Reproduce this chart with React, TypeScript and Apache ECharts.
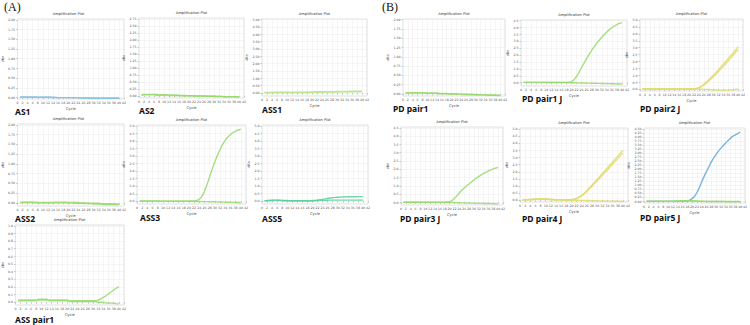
import React, { useEffect, useRef } from "react";
import * as echarts from "echarts";

// Cycle numbers shared by every amplification run
const CYCLES = [1, 2, 3, 4, 5, 6, 7, 8, 9, 10, 11, 12, 13, 14, 15, 16, 17, 18, 19, 20, 21, 22, 23, 24, 25, 26, 27, 28, 29, 30, 31, 32, 33, 34, 35, 36, 37, 38, 39, 40];

// y tick label sets
const TICKS_2_00 = [0, 0.25, 0.5, 0.75, 1, 1.25, 1.5, 1.75, 2];
const TICKS_2_75 = [0, 0.25, 0.5, 0.75, 1, 1.25, 1.5, 1.75, 2, 2.25, 2.5, 2.75];
const TICKS_5_0 = [0, 0.5, 1, 1.5, 2, 2.5, 3, 3.5, 4, 4.5, 5];
const TICKS_1_0 = [0, 0.1, 0.2, 0.3, 0.4, 0.5, 0.6, 0.7, 0.8, 0.9, 1];
const TICKS_4_5 = [0, 0.5, 1, 1.5, 2, 2.5, 3, 3.5, 4, 4.5];
const TICKS_4_50Q = [0, 0.25, 0.5, 0.75, 1, 1.25, 1.5, 1.75, 2, 2.25, 2.5, 2.75, 3, 3.25, 3.5, 3.75, 4, 4.25, 4.5];

// dRn per cycle
const AS1_W1 = [0.02, 0.02, 0.02, 0.02, 0.02, 0.02, 0.02, 0.01, 0.01, 0.01, 0.01, 0.01, 0.01, 0.01, 0.01, 0.0, 0.0, 0.0, 0.0, 0.0, 0.0, 0.0, 0.0, 0.0, -0.01, -0.01, -0.01, -0.01, -0.01, -0.02, -0.02, -0.02, -0.02, -0.02, -0.02, -0.02, -0.02, -0.02, -0.02, -0.02];
const AS1_W2 = [0.01, 0.01, 0.01, 0.01, 0.01, 0.01, 0.01, 0.01, 0.01, 0.01, 0.01, 0.01, 0.01, 0.0, 0.0, 0.0, 0.0, 0.0, 0.0, 0.0, 0.0, 0.0, 0.0, 0.0, 0.0, 0.0, -0.01, -0.01, -0.01, -0.01, -0.01, -0.01, -0.01, -0.01, -0.01, -0.01, -0.01, -0.01, -0.01, -0.01];

const AS2_W1 = [0.04, 0.05, 0.05, 0.05, 0.05, 0.05, 0.05, 0.04, 0.04, 0.04, 0.03, 0.03, 0.03, 0.02, 0.02, 0.02, 0.01, 0.01, 0.01, 0.0, 0.0, 0.0, -0.01, -0.01, -0.01, -0.01, -0.02, -0.02, -0.02, -0.02, -0.03, -0.03, -0.03, -0.03, -0.04, -0.04, -0.04, -0.04, -0.05, -0.05];
const AS2_W2 = [0.02, 0.03, 0.03, 0.03, 0.03, 0.03, 0.02, 0.02, 0.02, 0.02, 0.02, 0.01, 0.01, 0.01, 0.01, 0.01, 0.0, 0.0, 0.0, 0.0, 0.0, -0.01, -0.01, -0.01, -0.01, -0.01, -0.01, -0.02, -0.02, -0.02, -0.02, -0.02, -0.02, -0.03, -0.03, -0.03, -0.03, -0.03, -0.03, -0.04];

const ASS1_W1 = [0.05, 0.05, 0.05, 0.05, 0.06, 0.06, 0.06, 0.06, 0.06, 0.06, 0.06, 0.06, 0.06, 0.06, 0.06, 0.06, 0.06, 0.06, 0.07, 0.08, 0.09, 0.09, 0.1, 0.1, 0.1, 0.1, 0.1, 0.1, 0.1, 0.11, 0.11, 0.11, 0.11, 0.11, 0.12, 0.12, 0.12, 0.12, 0.12, 0.12];
const ASS1_W2 = [0.02, 0.02, 0.02, 0.02, 0.03, 0.03, 0.03, 0.03, 0.03, 0.03, 0.03, 0.03, 0.03, 0.03, 0.03, 0.03, 0.03, 0.04, 0.04, 0.05, 0.05, 0.06, 0.06, 0.06, 0.06, 0.07, 0.07, 0.07, 0.07, 0.07, 0.08, 0.08, 0.08, 0.08, 0.08, 0.09, 0.09, 0.09, 0.09, 0.09];

const ASS2_W1 = [0.01, 0.02, 0.02, 0.02, 0.02, 0.02, 0.02, 0.01, 0.01, 0.01, 0.01, 0.01, 0.01, 0.01, 0.02, 0.02, 0.02, 0.02, 0.02, 0.01, 0.01, 0.01, 0.01, 0.01, 0.0, 0.0, 0.0, 0.0, -0.01, -0.01, -0.01, -0.01, -0.02, -0.02, -0.02, -0.02, -0.02, -0.03, -0.03, -0.03];
const ASS2_W2 = [0.0, 0.01, 0.01, 0.01, 0.01, 0.01, 0.0, 0.0, 0.0, 0.0, 0.0, 0.0, 0.0, 0.0, 0.0, 0.0, 0.0, 0.0, 0.0, 0.0, 0.0, 0.0, -0.01, -0.01, -0.01, -0.01, -0.02, -0.02, -0.02, -0.03, -0.03, -0.03, -0.03, -0.04, -0.04, -0.04, -0.04, -0.04, -0.05, -0.05];

const ASS3_W1 = [0.0, 0.01, 0.01, 0.01, 0.01, 0.01, 0.01, 0.01, 0.01, 0.01, 0.01, 0.01, 0.01, 0.01, 0.01, 0.01, 0.01, 0.01, 0.01, 0.01, 0.02, 0.03, 0.06, 0.14, 0.32, 0.66, 1.12, 1.64, 2.15, 2.62, 3.05, 3.44, 3.78, 4.05, 4.27, 4.44, 4.57, 4.67, 4.74, 4.79];
const ASS3_W2 = [0.02, 0.02, 0.02, 0.02, 0.02, 0.02, 0.02, 0.02, 0.01, 0.01, 0.01, 0.01, 0.01, 0.01, 0.01, 0.0, 0.0, 0.0, 0.0, 0.0, 0.0, -0.01, -0.01, -0.01, -0.02, -0.02, -0.02, -0.03, -0.03, -0.04, -0.04, -0.05, -0.05, -0.06, -0.06, -0.07, -0.07, -0.08, -0.08, -0.09];

const ASS5_W1 = [0.02, 0.03, 0.04, 0.05, 0.06, 0.06, 0.05, 0.04, 0.03, 0.03, 0.02, 0.02, 0.02, 0.02, 0.02, 0.02, 0.02, 0.02, 0.02, 0.03, 0.04, 0.06, 0.08, 0.11, 0.14, 0.17, 0.2, 0.22, 0.24, 0.25, 0.26, 0.27, 0.27, 0.28, 0.28, 0.28, 0.28, 0.29, 0.29, 0.29];
const ASS5_W2 = [0.01, 0.02, 0.03, 0.03, 0.04, 0.04, 0.04, 0.03, 0.02, 0.02, 0.02, 0.01, 0.01, 0.01, 0.01, 0.01, 0.01, 0.01, 0.01, 0.02, 0.02, 0.03, 0.04, 0.04, 0.05, 0.05, 0.06, 0.06, 0.06, 0.06, 0.06, 0.06, 0.06, 0.06, 0.06, 0.06, 0.06, 0.06, 0.06, 0.06];

const ASSP1_W1 = [0.03, 0.03, 0.03, 0.03, 0.03, 0.03, 0.03, 0.03, 0.04, 0.04, 0.04, 0.04, 0.03, 0.03, 0.03, 0.03, 0.03, 0.03, 0.03, 0.03, 0.02, 0.02, 0.02, 0.02, 0.02, 0.02, 0.02, 0.02, 0.02, 0.02, 0.02, 0.03, 0.045, 0.065, 0.085, 0.11, 0.135, 0.16, 0.185, 0.205];
const ASSP1_W2 = [0.02, 0.02, 0.02, 0.02, 0.02, 0.02, 0.02, 0.02, 0.03, 0.03, 0.03, 0.03, 0.02, 0.02, 0.02, 0.02, 0.02, 0.02, 0.02, 0.02, 0.01, 0.01, 0.01, 0.01, 0.01, 0.01, 0.01, 0.01, 0.01, 0.01, 0.01, 0.0, 0.0, 0.0, -0.01, -0.01, -0.01, -0.01, -0.02, -0.02];

const PDP1_W1 = [0.02, 0.03, 0.03, 0.03, 0.03, 0.03, 0.03, 0.03, 0.03, 0.02, 0.02, 0.02, 0.02, 0.02, 0.01, 0.01, 0.01, 0.01, 0.0, 0.0, 0.0, 0.0, -0.01, -0.01, -0.01, -0.01, -0.02, -0.02, -0.02, -0.02, -0.02, -0.03, -0.03, -0.03, -0.03, -0.03, -0.04, -0.04, -0.04, -0.04];
const PDP1_W2 = [0.01, 0.02, 0.02, 0.02, 0.02, 0.02, 0.02, 0.02, 0.02, 0.01, 0.01, 0.01, 0.01, 0.01, 0.0, 0.0, 0.0, 0.0, 0.0, -0.01, -0.01, -0.01, -0.01, -0.01, -0.02, -0.02, -0.02, -0.02, -0.02, -0.03, -0.03, -0.03, -0.03, -0.03, -0.04, -0.04, -0.04, -0.04, -0.05, -0.05];

const PDP1J_W1 = [0.02, 0.02, 0.02, 0.02, 0.02, 0.02, 0.02, 0.02, 0.02, 0.02, 0.02, 0.02, 0.02, 0.02, 0.02, 0.02, 0.02, 0.03, 0.04, 0.08, 0.22, 0.45, 0.75, 1.1, 1.42, 1.75, 2.05, 2.35, 2.6, 2.85, 3.08, 3.3, 3.5, 3.68, 3.85, 4.0, 4.12, 4.22, 4.3, 4.36];
const PDP1J_W2 = [0.02, 0.02, 0.02, 0.02, 0.02, 0.02, 0.02, 0.02, 0.02, 0.02, 0.01, 0.01, 0.01, 0.01, 0.01, 0.01, 0.01, 0.0, 0.0, 0.0, 0.0, -0.01, -0.01, -0.02, -0.02, -0.03, -0.03, -0.04, -0.04, -0.05, -0.05, -0.06, -0.06, -0.07, -0.07, -0.08, -0.08, -0.09, -0.09, -0.1];

const PDP2J_W1 = [0.02, 0.02, 0.02, 0.02, 0.02, 0.02, 0.02, 0.02, 0.02, 0.02, 0.02, 0.02, 0.02, 0.02, 0.02, 0.02, 0.02, 0.02, 0.02, 0.02, 0.02, 0.03, 0.06, 0.12, 0.22, 0.36, 0.52, 0.68, 0.85, 1.03, 1.22, 1.42, 1.62, 1.82, 2.02, 2.22, 2.43, 2.64, 2.86, 3.08];
const PDP2J_W2 = [0.02, 0.02, 0.02, 0.02, 0.02, 0.02, 0.02, 0.02, 0.02, 0.02, 0.02, 0.02, 0.02, 0.02, 0.02, 0.02, 0.02, 0.02, 0.02, 0.02, 0.02, 0.03, 0.05, 0.1, 0.19, 0.31, 0.45, 0.6, 0.76, 0.93, 1.1, 1.28, 1.47, 1.66, 1.85, 2.05, 2.25, 2.46, 2.67, 2.88];
const PDP2J_W3 = [0.02, 0.02, 0.02, 0.02, 0.02, 0.02, 0.02, 0.02, 0.02, 0.02, 0.02, 0.02, 0.02, 0.02, 0.02, 0.02, 0.02, 0.02, 0.02, 0.02, 0.02, 0.02, 0.02, 0.01, 0.01, 0.0, 0.0, -0.01, -0.02, -0.03, -0.04, -0.05, -0.06, -0.06, -0.06, -0.05, -0.04, -0.02, 0.0, 0.02];

const PDP3J_W1 = [0.02, 0.02, 0.02, 0.02, 0.02, 0.02, 0.02, 0.02, 0.02, 0.02, 0.02, 0.02, 0.02, 0.02, 0.02, 0.02, 0.02, 0.02, 0.03, 0.05, 0.12, 0.25, 0.4, 0.57, 0.72, 0.87, 1.0, 1.12, 1.24, 1.35, 1.46, 1.56, 1.66, 1.75, 1.83, 1.9, 1.97, 2.03, 2.08, 2.12];
const PDP3J_W2 = [0.02, 0.02, 0.02, 0.02, 0.02, 0.02, 0.02, 0.02, 0.02, 0.02, 0.02, 0.01, 0.01, 0.01, 0.01, 0.01, 0.01, 0.01, 0.0, 0.0, 0.0, 0.0, -0.01, -0.01, -0.02, -0.02, -0.03, -0.03, -0.04, -0.04, -0.05, -0.05, -0.05, -0.06, -0.06, -0.06, -0.07, -0.07, -0.08, -0.08];

const PDP4J_W1 = [0.03, 0.04, 0.05, 0.06, 0.07, 0.08, 0.09, 0.1, 0.1, 0.09, 0.08, 0.07, 0.06, 0.05, 0.05, 0.04, 0.04, 0.04, 0.04, 0.05, 0.08, 0.14, 0.23, 0.35, 0.5, 0.68, 0.87, 1.07, 1.27, 1.47, 1.67, 1.87, 2.07, 2.27, 2.47, 2.68, 2.89, 3.1, 3.3, 3.5];
const PDP4J_W2 = [0.02, 0.03, 0.04, 0.05, 0.06, 0.07, 0.08, 0.09, 0.09, 0.08, 0.07, 0.06, 0.05, 0.04, 0.04, 0.03, 0.03, 0.03, 0.03, 0.04, 0.07, 0.12, 0.2, 0.31, 0.45, 0.62, 0.8, 0.99, 1.18, 1.37, 1.56, 1.75, 1.94, 2.13, 2.33, 2.53, 2.73, 2.93, 3.12, 3.32];
const PDP4J_W3 = [0.02, 0.03, 0.04, 0.05, 0.06, 0.07, 0.08, 0.08, 0.08, 0.07, 0.06, 0.05, 0.04, 0.04, 0.03, 0.03, 0.02, 0.02, 0.01, 0.01, 0.0, 0.0, 0.0, -0.01, -0.01, -0.02, -0.02, -0.03, -0.03, -0.04, -0.04, -0.05, -0.05, -0.06, -0.06, -0.06, -0.07, -0.07, -0.08, -0.08];

const PDP5J_B1 = [0.0, 0.0, 0.0, 0.0, 0.0, 0.0, 0.0, 0.0, 0.0, 0.0, 0.0, 0.0, 0.0, 0.0, 0.0, 0.0, 0.01, 0.03, 0.08, 0.17, 0.3, 0.55, 0.85, 1.2, 1.55, 1.85, 2.15, 2.45, 2.7, 2.92, 3.12, 3.3, 3.47, 3.62, 3.78, 3.92, 4.05, 4.12, 4.2, 4.3];
const PDP5J_G1 = [0.01, 0.01, 0.01, 0.01, 0.01, 0.01, 0.01, 0.01, 0.01, 0.01, 0.01, 0.01, 0.02, 0.03, 0.04, 0.05, 0.05, 0.05, 0.05, 0.04, 0.03, 0.02, 0.01, 0.01, 0.0, 0.0, 0.0, 0.0, 0.0, 0.0, 0.0, 0.0, 0.0, 0.0, 0.0, 0.0, 0.0, 0.0, 0.0, 0.0];
const PDP5J_G2 = [0.0, 0.0, 0.0, 0.0, 0.0, 0.0, 0.0, 0.0, 0.0, 0.0, 0.0, 0.0, 0.01, 0.01, 0.02, 0.02, 0.02, 0.02, 0.02, 0.02, 0.01, 0.01, 0.0, 0.0, 0.0, 0.0, -0.01, -0.01, -0.01, -0.01, -0.01, -0.01, -0.01, -0.02, -0.02, -0.02, -0.02, -0.02, -0.02, -0.02];

const GREEN = "#97d96b";
const YELLOW = "#e2da68";
const BLUE = "#62a8d8";
const TEAL = "#58cf9c";
const SKY = "#86c1e4";

type Panel = {
  label: string;
  ticks: number[];
  decimals: number;
  lines: [number[], string][];
};

const PANELS: Panel[] = [
  { label: "AS1", ticks: TICKS_2_00, decimals: 2, lines: [[AS1_W1, SKY], [AS1_W2, SKY]] },
  { label: "AS2", ticks: TICKS_2_75, decimals: 2, lines: [[AS2_W1, GREEN], [AS2_W2, GREEN]] },
  { label: "ASS1", ticks: TICKS_5_0, decimals: 2, lines: [[ASS1_W1, "#b9e48c"], [ASS1_W2, "#b9e48c"]] },
  { label: "ASS2", ticks: TICKS_2_00, decimals: 2, lines: [[ASS2_W1, GREEN], [ASS2_W2, GREEN]] },
  { label: "ASS3", ticks: TICKS_5_0, decimals: 1, lines: [[ASS3_W1, GREEN], [ASS3_W2, GREEN]] },
  { label: "ASS5", ticks: TICKS_5_0, decimals: 1, lines: [[ASS5_W1, TEAL], [ASS5_W2, TEAL]] },
  { label: "ASS pair1", ticks: TICKS_1_0, decimals: 1, lines: [[ASSP1_W1, GREEN], [ASSP1_W2, GREEN]] },
  { label: "PD pair1", ticks: TICKS_2_00, decimals: 2, lines: [[PDP1_W1, GREEN], [PDP1_W2, GREEN]] },
  { label: "PD pair1 J", ticks: TICKS_4_5, decimals: 1, lines: [[PDP1J_W1, GREEN], [PDP1J_W2, GREEN]] },
  { label: "PD pair2 J", ticks: TICKS_5_0, decimals: 1, lines: [[PDP2J_W1, YELLOW], [PDP2J_W2, YELLOW], [PDP2J_W3, YELLOW]] },
  { label: "PD pair3 J", ticks: TICKS_4_5, decimals: 1, lines: [[PDP3J_W1, GREEN], [PDP3J_W2, GREEN]] },
  { label: "PD pair4 J", ticks: TICKS_5_0, decimals: 1, lines: [[PDP4J_W1, YELLOW], [PDP4J_W2, YELLOW], [PDP4J_W3, YELLOW]] },
  { label: "PD pair5 J", ticks: TICKS_4_50Q, decimals: 2, lines: [[PDP5J_B1, BLUE], [PDP5J_G1, GREEN], [PDP5J_G2, GREEN]] },
];

// plot boxes (px) and the value range shown on each y axis
const LAYOUT = [
  { left: 13, top: 19, width: 111, height: 80, yMin: -0.035, yMax: 2.02, lx: 15, ly: 111 },
  { left: 139, top: 18, width: 105, height: 80, yMin: -0.08, yMax: 2.78, lx: 139, ly: 110 },
  { left: 262, top: 19, width: 105, height: 77, yMin: -0.2, yMax: 5.05, lx: 262, ly: 109 },
  { left: 13, top: 124, width: 111, height: 82, yMin: -0.08, yMax: 2.02, lx: 15, ly: 218 },
  { left: 137, top: 125, width: 109, height: 79, yMin: -0.18, yMax: 5.07, lx: 140, ly: 217 },
  { left: 262, top: 125, width: 106, height: 79, yMin: -0.2, yMax: 5.07, lx: 262, ly: 218 },
  { left: 15, top: 225, width: 109, height: 80, yMin: -0.035, yMax: 1.01, lx: 15, ly: 319 },
  { left: 403, top: 19, width: 102, height: 77, yMin: -0.06, yMax: 2.02, lx: 393, ly: 108 },
  { left: 521, top: 20, width: 106, height: 66, yMin: -0.24, yMax: 4.55, lx: 522, ly: 98 },
  { left: 640, top: 19, width: 103, height: 72, yMin: -0.12, yMax: 5.07, lx: 640, ly: 108 },
  { left: 401, top: 127, width: 102, height: 78, yMin: -0.15, yMax: 4.55, lx: 400, ly: 218 },
  { left: 520, top: 128, width: 108, height: 74, yMin: -0.12, yMax: 5.07, lx: 522, ly: 218 },
  { left: 644, top: 128, width: 101, height: 75, yMin: -0.1, yMax: 4.55, lx: 640, ly: 217 },
];

const TICK_FONT = 3.2;

function buildOption() {
  const grid = LAYOUT.map((g) => ({
    left: g.left,
    top: g.top,
    width: g.width,
    height: g.height,
    show: true,
    backgroundColor: "#ffffff",
    borderColor: "#cdcdcd",
    borderWidth: 0.6,
  }));

  const xAxis = LAYOUT.map((_, i) => ({
    gridIndex: i,
    type: "value",
    min: 0,
    max: 42,
    interval: 2,
    name: "Cycle",
    nameLocation: "middle",
    nameGap: 7.5,
    nameTextStyle: { fontSize: 3.6, color: "#444", fontFamily: "DejaVu Sans" },
    axisLine: { show: false },
    axisTick: { show: true, length: 1.5, lineStyle: { color: "#999", width: 0.5 } },
    axisLabel: { fontSize: TICK_FONT, color: "#555", margin: 2.2, fontFamily: "DejaVu Sans" },
    splitLine: { show: true, lineStyle: { color: "#ebebeb", width: 0.5 } },
  }));

  const yAxis = LAYOUT.map((g, i) => {
    const p = PANELS[i];
    return {
      gridIndex: i,
      type: "value",
      min: g.yMin,
      max: g.yMax,
      name: "dRn",
      nameLocation: "middle",
      nameRotate: 90,
      nameGap: 9,
      nameTextStyle: { fontSize: 3.4, color: "#444", fontFamily: "DejaVu Sans" },
      axisLine: { show: false },
      axisTick: { show: true, length: 1.5, customValues: p.ticks, lineStyle: { color: "#999", width: 0.5 } },
      axisLabel: {
        fontSize: TICK_FONT,
        color: "#555",
        margin: 2.5,
        fontFamily: "DejaVu Sans",
        customValues: p.ticks,
        formatter: (v: number) => v.toFixed(p.decimals),
      },
      splitLine: { show: true, lineStyle: { color: "#ebebeb", width: 0.5 } },
    };
  });

  const series: any[] = [];
  PANELS.forEach((p, i) => {
    p.lines.forEach(([values, color]) => {
      series.push({
        type: "line",
        xAxisIndex: i,
        yAxisIndex: i,
        data: CYCLES.map((c, j) => [c, values[j]]),
        showSymbol: false,
        smooth: 0.3,
        silent: true,
        lineStyle: { color, width: 1.4, opacity: 0.85 },
      });
    });
  });

  const graphic: any[] = [];
  LAYOUT.forEach((g, i) => {
    graphic.push({
      type: "text",
      x: g.left + g.width / 2,
      y: g.top - 3,
      silent: true,
      style: {
        text: "Amplification Plot",
        fontSize: 3.6,
        fontFamily: "DejaVu Sans",
        fill: "#333",
        align: "center",
        textAlign: "center",
        verticalAlign: "bottom",
        textVerticalAlign: "bottom",
      },
    });
    graphic.push({
      type: "text",
      x: g.lx,
      y: g.ly,
      silent: true,
      style: {
        text: PANELS[i].label,
        fontSize: 8.5,
        fontWeight: "bold",
        fontFamily: "Noto Sans",
        fill: "#111",
        verticalAlign: "middle",
        textVerticalAlign: "middle",
      },
    });
  });
  graphic.push({
    type: "text",
    x: 4,
    y: 1,
    silent: true,
    style: { text: "(A)", fontSize: 12, fontFamily: "Liberation Serif", fill: "#111", verticalAlign: "top", textVerticalAlign: "top" },
  });
  graphic.push({
    type: "text",
    x: 382,
    y: 1,
    silent: true,
    style: { text: "(B)", fontSize: 12, fontFamily: "Liberation Serif", fill: "#111", verticalAlign: "top", textVerticalAlign: "top" },
  });

  return {
    animation: false,
    backgroundColor: "#ffffff",
    grid,
    xAxis,
    yAxis,
    series,
    graphic,
  };
}

export default function App() {
  const ref = useRef<HTMLDivElement>(null);
  useEffect(() => {
    if (!ref.current) return;
    const chart = echarts.init(ref.current, undefined, { renderer: "svg" });
    chart.setOption(buildOption() as any);
    return () => chart.dispose();
  }, []);
  return (
    <div
      ref={ref}
      style={{ position: "fixed", left: 0, top: 0, width: 750, height: 325, background: "#fff" }}
    />
  );
}
